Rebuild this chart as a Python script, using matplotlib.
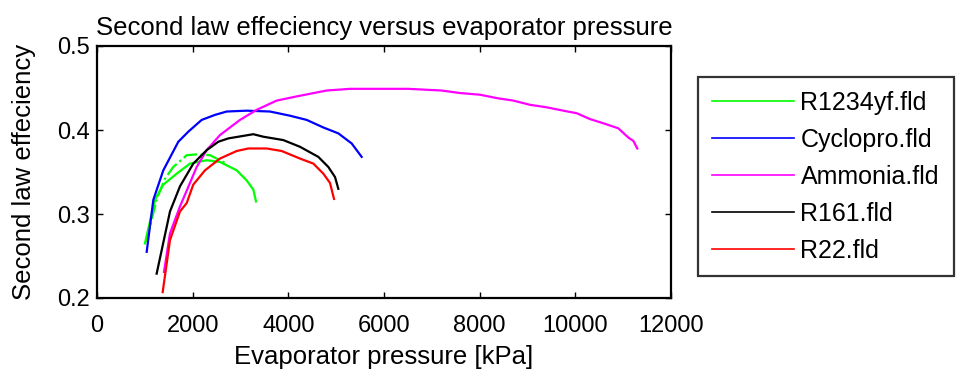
import matplotlib
matplotlib.use("Agg")
import matplotlib.pyplot as plt

plt.rcParams['font.family'] = ['Liberation Sans', 'DejaVu Sans']

# ---- data ----
r1234yf_p = [1003, 1212, 1386, 1666, 1944, 2293, 2571, 2920, 3129, 3268, 3324]
r1234yf_e = [0.265, 0.317, 0.335, 0.348, 0.360, 0.364, 0.362, 0.352, 0.340, 0.329, 0.315]

r1234yf2_p = [1024, 1108, 1250, 1421, 1595, 1875, 2084, 2362, 2711]
r1234yf2_e = [0.267, 0.285, 0.318, 0.342, 0.356, 0.370, 0.371, 0.370, 0.360]

cyclo_p = [1039, 1178, 1386, 1700, 1909, 2188, 2467, 2711, 3129, 3617, 4035, 4384, 4732, 5045, 5324, 5533]
cyclo_e = [0.255, 0.317, 0.352, 0.386, 0.398, 0.412, 0.418, 0.422, 0.423, 0.422, 0.417, 0.412, 0.403, 0.396, 0.384, 0.368]

ammonia_p = [1401, 1526, 1735, 1944, 2084, 2293, 2571, 2989, 3338, 3756, 4174, 4801, 5289,
             6508, 7205, 7589, 8007, 8355, 8704, 9052, 9401, 9749, 10028, 10307, 10585, 10899, 11108, 11213, 11296]
ammonia_e = [0.231, 0.277, 0.309, 0.337, 0.356, 0.376, 0.394, 0.412, 0.424, 0.435, 0.440, 0.447, 0.449,
             0.449, 0.447, 0.444, 0.442, 0.438, 0.435, 0.430, 0.427, 0.423, 0.420, 0.413, 0.408, 0.402, 0.391, 0.387, 0.378]

r161_p = [1247, 1526, 1735, 2013, 2293, 2536, 2745, 2954, 3268, 3477, 3895, 4244, 4627, 4836, 4976, 5045]
r161_e = [0.229, 0.303, 0.333, 0.360, 0.376, 0.386, 0.390, 0.392, 0.395, 0.392, 0.388, 0.380, 0.368, 0.356, 0.344, 0.330]

r22_p = [1373, 1526, 1735, 1875, 2013, 2258, 2571, 2920, 3164, 3547, 3861, 4244, 4523, 4732, 4871, 4955]
r22_e = [0.207, 0.269, 0.303, 0.313, 0.335, 0.352, 0.366, 0.375, 0.378, 0.378, 0.375, 0.366, 0.360, 0.348, 0.337, 0.318]

labels = ['R1234yf.fld', 'Cyclopro.fld', 'Ammonia.fld', 'R161.fld', 'R22.fld']
colors = ['#00ff00', '#0000ff', '#ff00ff', '#000000', '#ff0000']
xticks = [0, 2000, 4000, 6000, 8000, 10000, 12000]
yticks = [0.2, 0.3, 0.4, 0.5]

fig = plt.figure(figsize=(9.56, 3.78), dpi=100)
ax = fig.add_axes([97/956, 1-298/378, (671-97)/956, (298-46)/378])

lw = 1.6
h1, = ax.plot(r1234yf_p, r1234yf_e, color=colors[0], lw=lw)
ax.plot(r1234yf2_p, r1234yf2_e, color=colors[0], lw=lw, ls='-.')
h2, = ax.plot(cyclo_p, cyclo_e, color=colors[1], lw=lw)
h3, = ax.plot(ammonia_p, ammonia_e, color=colors[2], lw=lw)
h4, = ax.plot(r161_p, r161_e, color=colors[3], lw=lw)
h5, = ax.plot(r22_p, r22_e, color=colors[4], lw=lw)

ax.set_xlim(0, 12000)
ax.set_ylim(0.2, 0.5)
ax.set_xticks(xticks)
ax.set_xticklabels([str(t) for t in xticks])
ax.set_yticks(yticks)
ax.set_yticklabels([f"{t:.1f}" for t in yticks])
ax.tick_params(direction='in', length=4, width=1, top=True, right=True,
               labelsize=17, colors='black')
ax.tick_params(axis='x', pad=12)
ax.tick_params(axis='y', pad=5)
for s in ax.spines.values():
    s.set_linewidth(1.6)

ax.set_title('Second law effeciency versus evaporator pressure', fontsize=18.5, pad=8)
ax.set_xlabel('Evaporator pressure [kPa]', fontsize=18.5, labelpad=6)
ax.set_ylabel('Second law effeciency', fontsize=18.5, labelpad=15)

leg = fig.legend([h1, h2, h3, h4, h5], labels, loc='upper left',
                 bbox_to_anchor=(698/956, 1-77/378, (954-698)/956, 0.0001), mode='expand',
                 fontsize=18, frameon=True, fancybox=False, handlelength=3.3,
                 handletextpad=0.25, borderpad=0.55, labelspacing=0.52, borderaxespad=0)
leg.get_frame().set_edgecolor('black')
leg.get_frame().set_linewidth(1.6)
for l in leg.get_lines():
    l.set_linewidth(1.2)

fig.savefig('out.png', dpi=100)
